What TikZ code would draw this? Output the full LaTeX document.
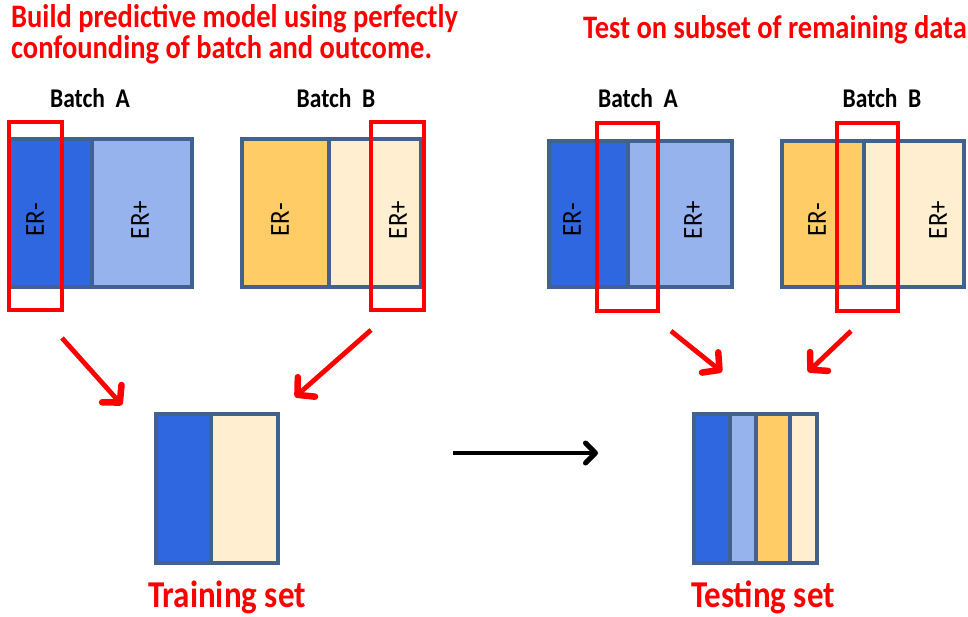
\documentclass[tikz,border=0pt]{standalone}
\usepackage{fontspec}
\setmainfont{Carlito}
\usetikzlibrary{arrows.meta}
\definecolor{dblue}{HTML}{2E67E0}
\definecolor{lblue}{HTML}{97B3EE}
\definecolor{orng}{HTML}{FFCC66}
\definecolor{crm}{HTML}{FFEFD0}
\definecolor{bord}{HTML}{41618F}
\definecolor{rd}{HTML}{FF0000}
\newcommand{\vs}[1]{\scalebox{1}[1.15]{#1}}
\tikzset{
  part/.style={draw=bord, line width=3.2pt, inner sep=0pt, minimum height=#1},
  sel/.style={draw=rd, line width=4.8pt},
  erlab/.style={rotate=90, font=\fontsize{25}{28}\selectfont, inner sep=0pt},
  batchlab/.style={font=\bfseries\fontsize{23.5}{26}\selectfont, inner sep=0pt},
  title/.style={text=rd, font=\bfseries\fontsize{28.5}{31}\selectfont, inner sep=0pt, align=left},
  setlab/.style={text=rd, font=\bfseries\fontsize{33}{36}\selectfont, inner sep=0pt},
  redarrow/.style={draw=rd, line width=4.8pt, -{Straight Barb[length=12pt,width=26pt,line width=6.5pt,round]}},
  blackarrow/.style={draw=black, line width=4pt, -{Straight Barb[length=10pt,width=20pt,line width=5pt,round]}}
}
\begin{document}
\begin{tikzpicture}[x=1pt,y=-1pt]
\useasboundingbox (0,0) rectangle (968,616);
% titles
\node[title, anchor=west] (t1) at (11,19) {\vs{Build predictive model using perfectly}};
\node[title, anchor=west] (t1b) at (11,50) {\vs{confounding of batch and outcome.}};
\node[title, anchor=west] (t2) at (583,30) {\vs{Test on subset of remaining data}};
% batch labels
\node[batchlab] (bl1) at (90,98) {\vs{Batch\ \ A}};
\node[batchlab] (bl2) at (336,98) {\vs{Batch\ \ B}};
\node[batchlab] (bl3) at (638,98) {\vs{Batch\ \ A}};
\node[batchlab] (bl4) at (882,98) {\vs{Batch\ \ B}};
% left batch A
\node[part=148pt, fill=dblue, minimum width=83pt] (la1) at (50.5,213) {};
\node[part=148pt, fill=lblue, minimum width=100pt] (la2) at (142,213) {};
% left batch B
\node[part=148pt, fill=orng, minimum width=87pt] (lb1) at (285.5,213) {};
\node[part=148pt, fill=crm, minimum width=92pt] (lb2) at (375,213) {};
% right batch A
\node[part=146pt, fill=dblue, minimum width=79pt] (ra1) at (588.5,214) {};
\node[part=146pt, fill=lblue, minimum width=104pt] (ra2) at (680,214) {};
% right batch B
\node[part=146pt, fill=orng, minimum width=82pt] (rb1) at (823,214) {};
\node[part=146pt, fill=crm, minimum width=100pt] (rb2) at (914,214) {};
% ER labels
\node[erlab] (e1) at (35,220) {\scalebox{1}[1.1]{ER-}};
\node[erlab] (e2) at (140,220) {\scalebox{1}[1.1]{ER+}};
\node[erlab] (e3) at (280,220) {\scalebox{1}[1.1]{ER-}};
\node[erlab] (e4) at (398,220) {\scalebox{1}[1.1]{ER+}};
\node[erlab] (e5) at (572,220) {\scalebox{1}[1.1]{ER-}};
\node[erlab] (e6) at (693,220) {\scalebox{1}[1.1]{ER+}};
\node[erlab] (e7) at (817,220) {\scalebox{1}[1.1]{ER-}};
\node[erlab] (e8) at (938,220) {\scalebox{1}[1.1]{ER+}};
% selection boxes
\node[sel, minimum width=53pt, minimum height=188pt, inner sep=0pt] (s1) at (35.5,216) {};
\node[sel, minimum width=53pt, minimum height=188pt, inner sep=0pt] (s2) at (397.5,216) {};
\node[sel, minimum width=61pt, minimum height=188pt, inner sep=0pt] (s3) at (627.5,217) {};
\node[sel, minimum width=61pt, minimum height=188pt, inner sep=0pt] (s4) at (867.5,217) {};
% training set
\node[part=149pt, fill=dblue, minimum width=55pt] (tr1) at (183.5,488.5) {};
\node[part=149pt, fill=crm, minimum width=67pt] (tr2) at (244.5,488.5) {};
% testing set
\node[part=149pt, fill=dblue, minimum width=36pt] (te1) at (712,488.5) {};
\node[part=149pt, fill=lblue, minimum width=26pt] (te2) at (743,488.5) {};
\node[part=149pt, fill=orng, minimum width=34pt] (te3) at (773,488.5) {};
\node[part=149pt, fill=crm, minimum width=27pt] (te4) at (803.5,488.5) {};
% set labels
\node[setlab] (trl) at (227,597) {\vs{Training set}};
\node[setlab] (tel) at (763,597) {\vs{Testing set}};
% arrows
\coordinate (a1s) at (62,338);
\coordinate (a1e) at (122,405);
\coordinate (a2s) at (371,330);
\coordinate (a2e) at (295,397);
\coordinate (a3s) at (671,331);
\coordinate (a3e) at (722,372);
\coordinate (a4s) at (851,331);
\coordinate (a4e) at (808,372);
\coordinate (bs) at (453,453);
\coordinate (be) at (598,453);
\draw[redarrow] (a1s) -- (a1e);
\draw[redarrow] (a2s) -- (a2e);
\draw[redarrow] (a3s) -- (a3e);
\draw[redarrow] (a4s) -- (a4e);
\draw[blackarrow] (bs) -- (be);
\end{tikzpicture}
\end{document}
